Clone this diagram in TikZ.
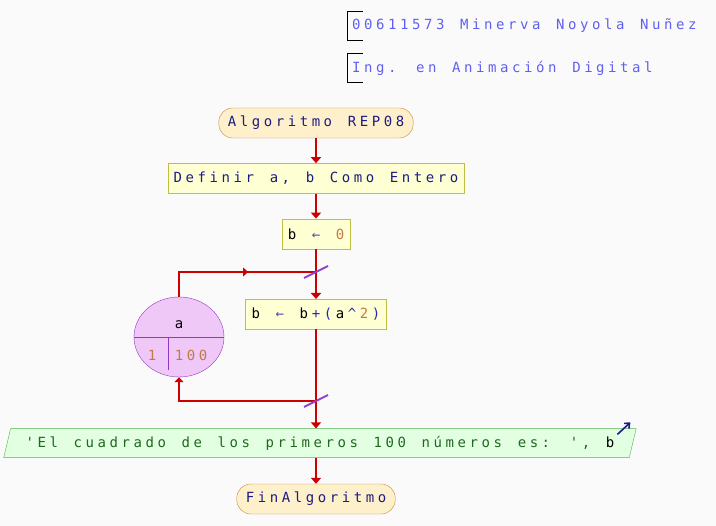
\documentclass[tikz,border=0pt]{standalone}
\usepackage{fontspec}
\usepackage{xcolor}
\usepackage{tikz}
\usetikzlibrary{arrows.meta,positioning,shapes.geometric}
\newfontfamily\psfont[LetterSpace=25.5,Ligatures=TeXOff]{DejaVu Sans Mono}
\newcommand\psset{\fontsize{14pt}{16pt}\selectfont\psfont\spaceskip=15.6pt\relax}
\newcommand\lsk{\kern3.6pt}
\definecolor{bgcol}{HTML}{FAFAFA}
\definecolor{flowred}{HTML}{CC0000}
\definecolor{headblue}{HTML}{6060F0}
\definecolor{navy}{HTML}{1C1C84}
\definecolor{opcol}{HTML}{2828B0}
\definecolor{asgcol}{HTML}{5050A0}
\definecolor{numcol}{HTML}{C07A48}
\definecolor{strcol}{HTML}{206820}
\definecolor{slashcol}{HTML}{9040D0}
\definecolor{termfill}{HTML}{FFF0CC}
\definecolor{termline}{HTML}{C8863A}
\definecolor{procfill}{HTML}{FFFFD4}
\definecolor{procline}{HTML}{C0C040}
\definecolor{outfill}{HTML}{E2FFE2}
\definecolor{outline}{HTML}{50B450}
\definecolor{loopfill}{HTML}{F0C8F8}
\definecolor{loopline}{HTML}{9038C8}

\begin{document}
\begin{tikzpicture}[
  x=1pt, y=-1pt,
  node distance=25pt,
  >={Triangle[width=10pt,length=6pt]},
  every node/.style={font=\psset, text=navy, align=center},
  head/.style={anchor=west, text=headblue, minimum height=28pt, inner xsep=5pt, inner ysep=0pt},
  bracket/.style={draw=black, line width=1pt},
  term/.style={draw=termline, fill=termfill, rounded corners=14pt, minimum height=30pt, inner xsep=9pt, inner ysep=0pt},
  proc/.style={draw=procline, fill=procfill, minimum height=30pt, inner xsep=6pt, inner ysep=0pt},
  outp/.style={trapezium, trapezium left angle=64, trapezium right angle=116, trapezium stretches body,
    draw=outline, fill=outfill, minimum height=29pt, inner xsep=15pt, inner ysep=0pt},
  loopc/.style={ellipse, draw=loopline, fill=loopfill, minimum width=90pt, minimum height=80pt, inner sep=0pt},
  flowline/.style={draw=flowred, line width=2pt},
  flow/.style={->, flowline},
  flowsmall/.style={-{Triangle[width=9pt,length=5pt]}, flowline},
  slash/.style={draw=slashcol, line width=2pt},
  outarrow/.style={draw=navy, line width=1.6pt, -{Straight Barb[length=4pt,width=7pt]}}
]
\fill[bgcol] (0,0) rectangle (716,526);
\useasboundingbox (0,0) rectangle (716,526);

% header
\node[head] (author) at (347,26) {00611573 Minerva Noyola Nuñez};
\node[head] (career) at (347,68) {Ing. en Animación Digital};
\draw[bracket] ([xshift=16pt]author.north west) -- (author.north west) -- (author.south west) -- ([xshift=16pt]author.south west);
\draw[bracket] ([xshift=16pt]career.north west) -- (career.north west) -- (career.south west) -- ([xshift=16pt]career.south west);

% flow
\node[term] (start) at (316,123) {Algoritmo REP08};
\node[proc, below=of start] (decl) {Definir a, b Como Entero};
\node[proc, below=of decl] (init) {\textcolor{black}{b} \textcolor{asgcol}{←} \textcolor{numcol}{0}};
\coordinate (jtop) at (316,272);
\node[proc, below=50pt of init] (upd) {\textcolor{black}{b} \textcolor{asgcol}{←} \textcolor{black}{b}\lsk\textcolor{opcol}{+(}\lsk\textcolor{black}{a}\lsk\textcolor{opcol}{\textasciicircum}\lsk\textcolor{numcol}{2}\lsk\textcolor{opcol}{)}};
\coordinate (jbot) at (316,401);
\node[outp, below=99pt of upd, xshift=4pt] (out) {\textcolor{strcol}{'El cuadrado de los primeros 100 números es: ',} \textcolor{black}{b}};
\node[term, below=26pt of out.south -| upd] (fin) {FinAlgoritmo};

% loop
\node[loopc] (loop) at (179,337) {};
\node[text=black] (lvar) at (179,325) {a};
\node[text=numcol] (lfrom) at (152,355) {1};
\node[text=numcol] (lto) at (191,355) {100};
\draw[draw=loopline] (loop.west) -- (loop.east);
\draw[draw=loopline] ([xshift=-11pt]loop.center) -- ++(0,33);
\coordinate (lmid) at (248,272);

\draw[flow] (start) -- (decl);
\draw[flow] (decl) -- (init);
\draw[flowline] (init) -- (jtop);
\draw[flow] (jtop) -- (upd);
\draw[flowline] (upd) -- (jbot);
\draw[flow] (jbot) -- (out.north -| jbot);
\draw[flow] (out.south -| jbot) -- (fin);
\draw[flowline] (loop.north) |- (jtop);
\draw[flowsmall] (loop.north |- jtop) -- (lmid);
\draw[flowsmall] (jbot) -| (loop.south);

\draw[slash] ([shift={(-12,6)}]jtop) -- ([shift={(12,-6)}]jtop);
\draw[slash] ([shift={(-12,6)}]jbot) -- ([shift={(12,-6)}]jbot);
\draw[outarrow] ([shift={(-19,6)}]out.top right corner) -- ([shift={(-6,-6)}]out.top right corner);

\end{tikzpicture}
\end{document}
